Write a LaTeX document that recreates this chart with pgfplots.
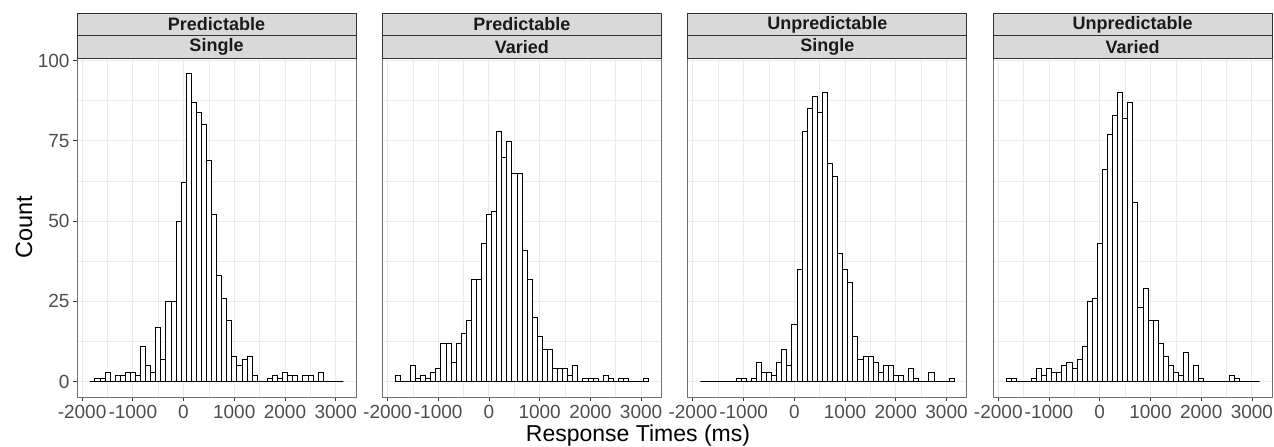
\documentclass[border=0pt]{standalone}
\usepackage{pgfplots}
\pgfplotsset{compat=1.18}
\usepackage{pgfplotstable}
\usepackage{fontspec}
\setmainfont{Liberation Sans}
\definecolor{gridc}{HTML}{EBEBEB}
\definecolor{g20}{HTML}{333333}
\definecolor{g30}{HTML}{4D4D4D}
\definecolor{stripc}{HTML}{D9D9D9}
\definecolor{g10}{HTML}{1A1A1A}

\pgfplotstableread{
x a b c d
-1800 0 2 0 1
-1700 1 0 0 1
-1600 1 0 0 0
-1500 3 5 0 0
-1400 0 1 0 0
-1300 2 2 0 1
-1200 2 1 0 4
-1100 3 3 1 2
-1000 3 4 1 4
-900 2 12 0 3
-800 11 12 1 3
-700 5 6 6 5
-600 3 12 3 6
-500 17 15 3 4
-400 7 19 2 7
-300 25 32 6 11
-200 25 32 10 25
-100 50 43 5 26
0 62 52 18 43
100 96 53 35 66
200 87 78 78 77
300 84 70 85 83
400 80 75 89 90
500 69 65 84 82
600 52 65 90 87
700 33 41 68 56
800 26 32 64 23
900 19 20 40 29
1000 8 14 35 19
1100 5 10 31 19
1200 7 10 14 12
1300 8 4 7 8
1400 2 4 8 5
1500 0 4 8 3
1600 0 2 6 2
1700 1 5 3 9
1800 2 0 5 0
1900 1 1 5 5
2000 3 1 2 1
2100 2 1 2 0
2200 2 0 0 0
2300 0 2 4 0
2400 2 1 1 0
2500 2 0 0 0
2600 0 1 0 2
2700 3 1 3 1
2800 0 0 0 0
2900 0 0 0 0
3000 0 0 0 0
3100 0 1 1 0
}\hist

\pgfplotsset{panel/.style={
  scale only axis, width=279bp, height=339bp,
  anchor=north west,
  xmin=-2100, xmax=3400, ymin=-4.8, ymax=100.8,
  xtick={-2000,-1000,0,1000,2000,3000},
  xticklabels={-2000,-1000,0,1000,2000,3000},
  minor xtick={-1500,-500,500,1500,2500},
  ytick={0,25,50,75,100},
  yticklabels={0,25,50,75,100},
  minor ytick={12.5,37.5,62.5,87.5},
  grid=both,
  major grid style={draw=gridc, line width=0.9bp},
  minor grid style={draw=gridc, line width=0.6bp},
  axis line style={draw=g20!70, line width=0.8bp},
  xtick pos=bottom, ytick pos=left,
  tick align=outside,
  major tick length=4bp, minor tick length=0bp,
  tick style={draw=g20, line width=0.8bp},
  tick label style={font=\fontsize{19bp}{22bp}\selectfont, text=g30},
  xticklabel style={yshift=-0.5bp},
}}

\newcommand{\strips}[3]{%
  \draw[fill=stripc, draw=g20, line width=0.8bp] ({#1*1bp},-13bp) rectangle ({(#1+279)*1bp},-35.5bp);
  \draw[fill=stripc, draw=g20, line width=0.8bp] ({#1*1bp},-35.5bp) rectangle ({(#1+279)*1bp},-58bp);
  \node[font=\fontsize{18bp}{20bp}\selectfont\bfseries, text=g10] at ({(#1+139.5)*1bp},-24.5bp) {#2};
  \node[font=\fontsize{18bp}{20bp}\selectfont\bfseries, text=g10] at ({(#1+139.5)*1bp},-47bp) {#3};
}

\begin{document}
\begin{tikzpicture}
\useasboundingbox (0bp,0bp) rectangle (1274bp,-447bp);

\begin{axis}[panel, at={(77bp,-58bp)}]
\addplot[ybar, bar width=100, bar shift=0pt, draw=black, fill=white, line width=0.6bp] table[x=x,y=a]{\hist};
\end{axis}

\begin{axis}[panel, at={(382.4bp,-58bp)}, yticklabels={}, ytick style={draw=none}]
\addplot[ybar, bar width=100, bar shift=0pt, draw=black, fill=white, line width=0.6bp] table[x=x,y=b]{\hist};
\end{axis}

\begin{axis}[panel, at={(687.8bp,-58bp)}, yticklabels={}, ytick style={draw=none}]
\addplot[ybar, bar width=100, bar shift=0pt, draw=black, fill=white, line width=0.6bp] table[x=x,y=c]{\hist};
\end{axis}

\begin{axis}[panel, at={(993.2bp,-58bp)}, yticklabels={}, ytick style={draw=none}]
\addplot[ybar, bar width=100, bar shift=0pt, draw=black, fill=white, line width=0.6bp] table[x=x,y=d]{\hist};
\end{axis}

\strips{77}{Predictable}{Single}
\strips{382.4}{Predictable}{Varied}
\strips{687.8}{Unpredictable}{Single}
\strips{993.2}{Unpredictable}{Varied}

\node[rotate=90, font=\fontsize{23.5bp}{25bp}\selectfont] at (24bp,-227.5bp) {Count};
\node[font=\fontsize{23bp}{25bp}\selectfont] at (638bp,-436bp) {Response Times (ms)};
\end{tikzpicture}
\end{document}
